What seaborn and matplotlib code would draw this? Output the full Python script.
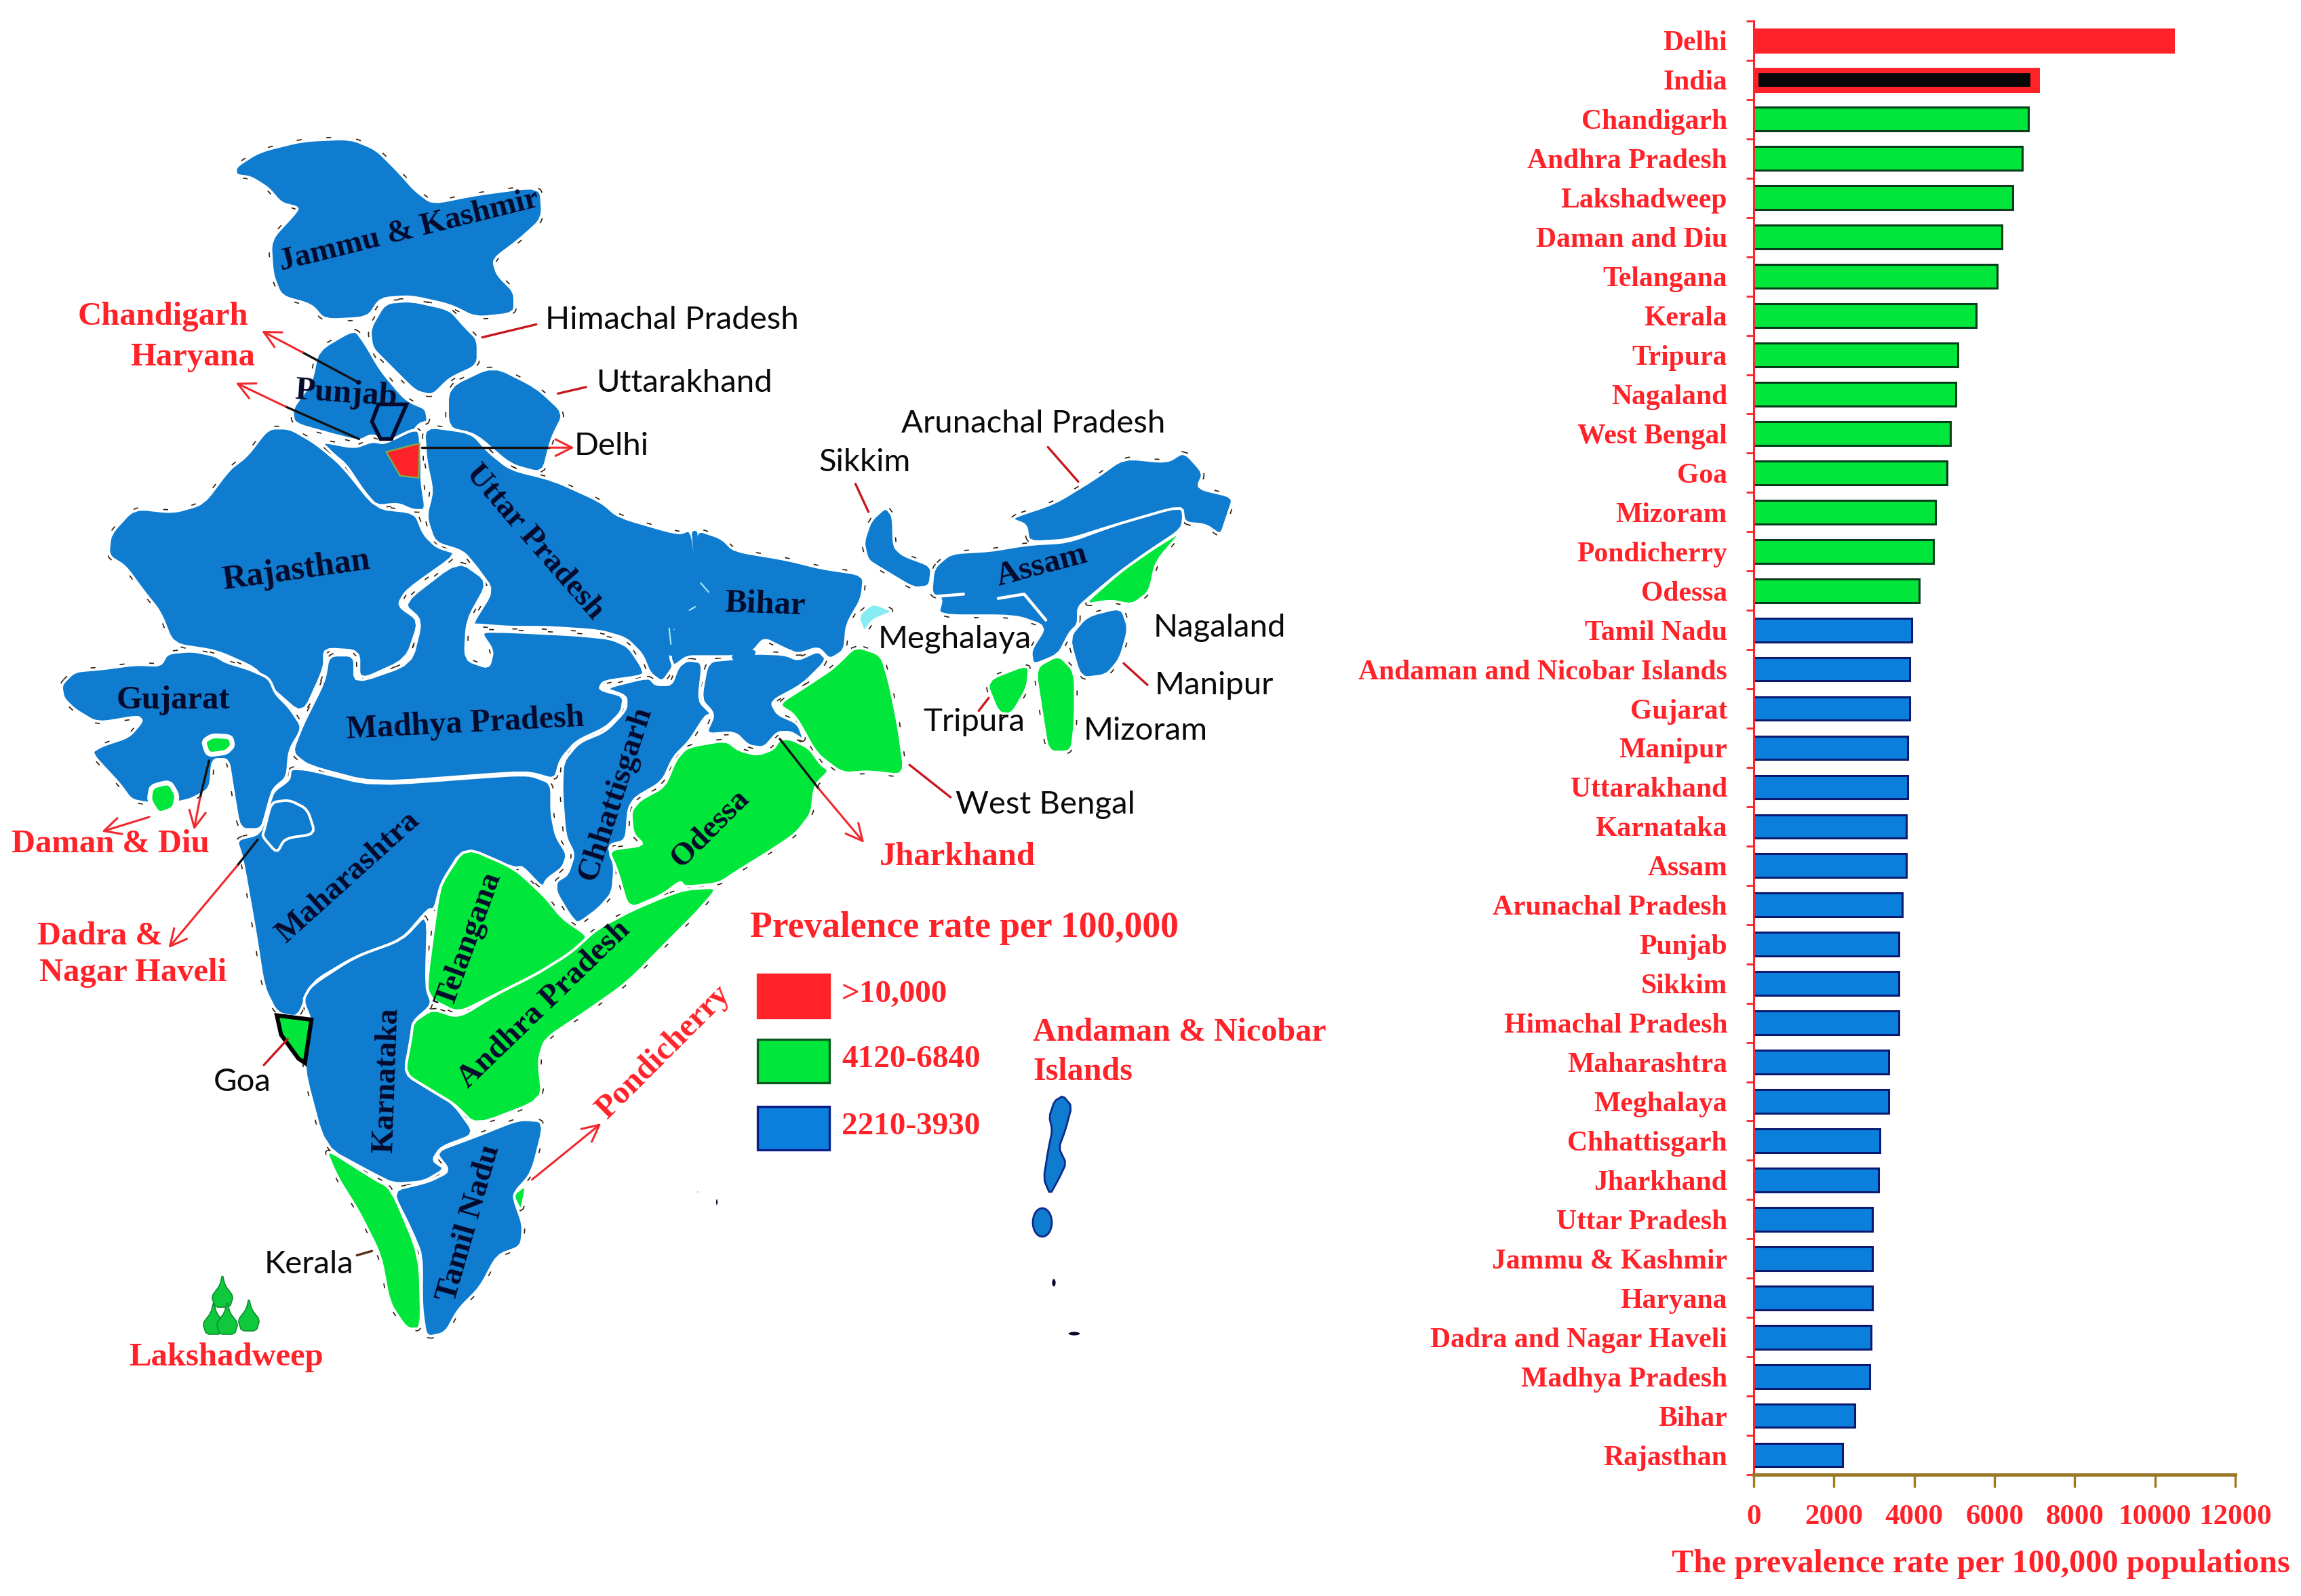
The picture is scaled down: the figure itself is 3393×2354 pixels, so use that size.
"""Prevalence by Indian state: hand-traced map on the left, ranked bars on the right."""

import matplotlib
matplotlib.use('Agg')
import matplotlib.pyplot as plt
from matplotlib.patches import Polygon, Rectangle, Ellipse
import pandas as pd
import seaborn as sns

W, H = 3393, 2354
DPI = 200

RED = '#ff2229'
GREEN = '#00e63a'
BLUE = '#0f7ccf'
BAR_BLUE = '#0a80dc'
SERIF = 'Liberation Serif'
SANS = 'Lato'

# bar chart data
states = ['Delhi', 'India', 'Chandigarh', 'Andhra Pradesh', 'Lakshadweep', 'Daman and Diu',
          'Telangana', 'Kerala', 'Tripura', 'Nagaland', 'West Bengal', 'Goa', 'Mizoram',
          'Pondicherry', 'Odessa', 'Tamil Nadu', 'Andaman and Nicobar Islands', 'Gujarat',
          'Manipur', 'Uttarakhand', 'Karnataka', 'Assam', 'Arunachal Pradesh', 'Punjab',
          'Sikkim', 'Himachal Pradesh', 'Maharashtra', 'Meghalaya', 'Chhattisgarh',
          'Jharkhand', 'Uttar Pradesh', 'Jammu & Kashmir', 'Haryana', 'Dadra and Nagar Haveli',
          'Madhya Pradesh', 'Bihar', 'Rajasthan']
rates = [10460, 7100, 6840, 6700, 6460, 6190, 6060, 5540, 5080, 5040, 4900, 4810, 4530, 4480,
         4120, 3930, 3880, 3880, 3840, 3840, 3800, 3800, 3700, 3620, 3620, 3620, 3360, 3360,
         3150, 3110, 2960, 2960, 2960, 2920, 2890, 2510, 2210]
groups = ['high'] * 2 + ['mid'] * 13 + ['low'] * 22
india_inner = (120, 6890)
x_ticks = [0, 2000, 4000, 6000, 8000, 10000, 12000]

legend_items = ['>10,000', '4120-6840', '2210-3930']


def pa(pts):
    return [(x / 1.568, 150 + y / 1.568) for x, y in pts]


def pb(pts):
    return [(1000 + x / 1.568, 500 + y / 1.568) for x, y in pts]


def pc(pts):
    return [(x / 1.568, 1150 + y / 1.568) for x, y in pts]


def pd_(pts):
    return [(50 + x / 3, 930 + y / 3) for x, y in pts]


def pe(pts):
    return [(750 + x / 3, 850 + y / 3) for x, y in pts]


jammu = pa([(545, 150), (600, 115), (700, 90), (810, 85), (870, 110), (920, 160), (960, 205),
            (1000, 235), (1100, 215), (1250, 195), (1255, 270), (1200, 320), (1140, 365),
            (1150, 400), (1190, 440), (1190, 490), (1100, 500), (1040, 470), (950, 450),
            (880, 455), (850, 500), (750, 505), (720, 470), (650, 450), (630, 400), (625, 320),
            (680, 260), (690, 245), (650, 235), (620, 200), (580, 175), (545, 170)])
himachal = pa([(855, 525), (890, 465), (950, 460), (1040, 480), (1075, 520), (1105, 550),
               (1105, 610), (1040, 640), (1000, 680), (960, 670), (900, 610), (860, 570)])
punjab = pa([(735, 575), (820, 525), (845, 560), (880, 620), (930, 680), (950, 695), (985, 710),
             (990, 740), (970, 745), (950, 770), (905, 790), (860, 770), (830, 785), (770, 770),
             (680, 745), (675, 710), (720, 650)])
haryana = pa([(740, 785), (820, 800), (860, 785), (890, 790), (950, 760), (970, 760), (975, 830),
              (975, 880), (985, 945), (955, 945), (920, 930), (870, 935), (840, 900), (800, 840),
              (770, 815)])
uttarakhand = pa([(1035, 660), (1140, 610), (1240, 660), (1305, 720), (1275, 780), (1255, 860),
                  (1180, 840), (1100, 770), (1035, 755)])
uttar_pradesh = (pa([(980, 750), (1090, 765), (1130, 810), (1180, 850), (1280, 875), (1390, 925),
                     (1430, 960), (1568, 1000)])
                 + pb([(30, 440), (45, 530)])
                 + pe([(885, 70), (820, 135), (720, 230), (715, 360), (730, 400), (680, 470),
                       (625, 430), (590, 345), (520, 275), (400, 240), (170, 225), (0, 225)])
                 + pa([(1110, 1210), (1090, 1210), (1140, 1130), (1100, 1075), (1070, 1040),
                       (1005, 1020), (985, 960), (1000, 900), (985, 830)]))
rajasthan = pa([(620, 755), (670, 755), (730, 790), (790, 840), (870, 940), (960, 950), (980, 1000),
                (1010, 1030), (1060, 1045), (940, 1130), (920, 1165), (970, 1200), (940, 1290),
                (830, 1340), (830, 1270), (750, 1265), (750, 1310), (700, 1420), (620, 1350),
                (590, 1310), (500, 1270), (400, 1255), (370, 1180), (330, 1130), (290, 1075),
                (250, 1050), (255, 1000), (310, 940), (400, 950), (470, 930), (530, 850), (570, 820)])
gujarat = pd_([(120, 240), (180, 180), (300, 170), (450, 150), (560, 155), (590, 100), (700, 90),
               (800, 110), (850, 140), (950, 170), (1040, 210), (1070, 280), (1130, 340), (1190, 430),
               (1130, 530), (1120, 650), (1060, 700), (1040, 760), (1010, 880), (910, 880), (880, 700),
               (860, 570), (790, 570), (780, 700), (700, 745), (640, 760), (510, 765), (430, 750),
               (380, 680), (250, 540), (300, 510), (420, 470), (480, 400), (460, 380), (280, 410),
               (180, 350), (130, 300)])
madhya = (pa([(700, 1440), (750, 1340), (760, 1280), (820, 1280), (820, 1345), (950, 1300), (975, 1200),
              (930, 1160), (1060, 1060), (1130, 1110), (1080, 1200), (1075, 1290), (1130, 1310),
              (1140, 1270), (1110, 1225)])
          + pe([(0, 245), (300, 260), (450, 275), (530, 310), (590, 400), (600, 440), (420, 465),
                (400, 500), (510, 530), (500, 600), (430, 670), (300, 730), (230, 810), (205, 900),
                (100, 870), (0, 870)])
          + pd_([(1500, 675), (1215, 600), (1140, 540)]))
chhattisgarh = pe([(420, 495), (520, 530), (520, 590), (430, 685), (310, 735), (240, 820), (235, 950),
                   (250, 1150), (290, 1230), (260, 1320), (210, 1350), (210, 1400), (270, 1500),
                   (305, 1540), (400, 1470), (460, 1400), (470, 1280), (440, 1190), (520, 1170),
                   (530, 1030), (560, 980), (680, 910), (730, 800), (800, 730), (870, 620), (900, 610),
                   (840, 550), (860, 380), (790, 370), (750, 400), (720, 480), (650, 480), (620, 445)])
maharashtra = (pd_([(895, 925), (1000, 900), (1040, 770), (1060, 710), (1130, 660), (1135, 610),
                    (1215, 615), (1500, 685)])
               + pe([(0, 880), (100, 880), (190, 915), (190, 1050), (210, 1150), (260, 1230), (240, 1290),
                     (170, 1340), (150, 1380), (60, 1285)])
               + pc([(1190, 205), (1070, 160), (1020, 240), (1005, 300), (990, 300), (930, 370), (820, 410),
                     (720, 470), (690, 550), (640, 540), (610, 480), (590, 350), (560, 180)]))
dadra = pd_([(1050, 760), (1130, 750), (1210, 790), (1245, 900), (1110, 920), (1075, 985), (1010, 910),
             (1020, 880)])
telangana = pc([(1075, 155), (1190, 205), (1260, 270), (1300, 320), (1365, 365), (1310, 410),
                (1240, 450), (1150, 495), (1060, 540), (1000, 510), (985, 480), (1010, 290),
                (1020, 240)])
andhra = (pc([(1000, 530), (1060, 550), (1150, 495), (1240, 450), (1320, 400), (1380, 345)])
          + pe([(540, 1480), (680, 1420), (780, 1385), (930, 1375), (830, 1490)])
          + pc([(1568, 350), (1450, 470), (1350, 540), (1260, 600), (1245, 650), (1255, 740), (1100, 800),
                (1050, 750), (1000, 720), (935, 680), (950, 600), (955, 560)]))
karnataka = pc([(720, 475), (820, 410), (930, 370), (990, 305), (985, 480), (1000, 520), (955, 560),
                (950, 600), (935, 680), (1000, 720), (1050, 750), (1100, 820), (1020, 850),
                (1000, 880), (1030, 900), (980, 930), (910, 935), (860, 910), (750, 850),
                (700, 660), (720, 560), (700, 510)])
goa = pc([(640, 545), (720, 555), (705, 655), (690, 645), (650, 590)])
kerala = pc([(750, 850), (860, 920), (905, 945), (970, 1100), (975, 1270), (940, 1270), (900, 1210),
             (880, 1100), (830, 1000), (780, 920)])
tamil_nadu = pc([(905, 950), (990, 930), (1040, 905), (1005, 860), (1100, 825), (1200, 785), (1260, 790),
                 (1230, 910), (1185, 960), (1210, 1030), (1205, 1080), (1150, 1100), (1110, 1175),
                 (1060, 1225), (1030, 1280), (985, 1290), (975, 1220), (975, 1100), (950, 1040)])
pondicherry = pc([(1185, 960), (1218, 935), (1205, 1000)])
odessa = pe([(440, 1210), (600, 1190), (550, 1140), (540, 1040), (580, 990), (690, 930), (740, 810),
             (790, 755), (960, 725), (1020, 770), (1100, 790), (1170, 765), (1200, 720), (1250, 720),
             (1330, 760), (1380, 830), (1420, 860), (1360, 920), (1350, 960), (1340, 1050), (1270, 1140),
             (1150, 1220), (1020, 1300), (930, 1360), (780, 1375), (760, 1350), (680, 1410), (530, 1475),
             (480, 1300)])
jharkhand = pe([(880, 375), (1000, 365), (1080, 340), (1220, 345), (1280, 370), (1370, 328), (1410, 370),
                (1300, 480), (1160, 555), (1190, 610), (1280, 650), (1310, 730), (1250, 690), (1190, 690),
                (1130, 760), (1060, 750), (1000, 690), (870, 700), (910, 610), (850, 545)])
bihar = (pb([(40, 440), (100, 460), (130, 490), (250, 510), (330, 530), (430, 545), (425, 600),
             (390, 660), (385, 720)])
         + pe([(1420, 370), (1370, 315), (1280, 345), (1220, 320), (1130, 275), (1080, 335), (1000, 355),
               (880, 355), (790, 355), (730, 400), (715, 360), (720, 230), (820, 135), (885, 70)])
         + pb([(45, 530)]))
west_bengal = pb([(410, 710), (470, 730), (490, 800), (510, 900), (525, 1010), (440, 1000), (380, 1005),
                  (320, 960), (270, 870), (230, 845), (300, 800), (360, 760)])
sikkim = pb([(480, 388), (497, 410), (499, 480), (520, 500), (587, 525), (582, 572), (545, 577),
             (470, 532), (438, 512), (428, 470), (445, 420)])
assam = pb([(590, 530), (630, 495), (720, 490), (810, 475), (900, 470), (1010, 430), (1150, 385),
            (1170, 395), (1165, 440), (1090, 490), (1020, 540), (960, 590), (925, 620), (925, 660),
            (905, 680), (880, 730), (820, 755), (815, 720), (850, 665), (780, 640), (600, 640),
            (610, 600), (585, 590)])
arunachal = pb([(765, 415), (870, 380), (960, 325), (1030, 275), (1130, 285), (1170, 260), (1215, 310),
                (1200, 345), (1285, 365), (1270, 410), (1255, 455), (1220, 430), (1170, 425),
                (1165, 385), (1010, 430), (900, 465), (810, 470), (805, 430)])
nagaland = pb([(935, 615), (1020, 540), (1090, 490), (1170, 440), (1105, 515), (1090, 585), (1050, 615),
               (1000, 605)])
manipur = pb([(945, 640), (1025, 620), (1042, 670), (1022, 740), (990, 778), (930, 785), (903, 690)])
mizoram = pb([(825, 760), (880, 730), (918, 770), (918, 880), (910, 955), (855, 955), (840, 860)])
tripura = pb([(710, 790), (812, 750), (808, 805), (772, 868), (740, 865)])
meghalaya = pb([(415, 640), (450, 610), (500, 630), (450, 650), (430, 680)])
delhi = pa([(893, 810), (970, 790), (968, 870), (925, 865)])
chandigarh = pa([(860, 740), (875, 700), (940, 700), (905, 780), (880, 780)])
daman = pd_([(520, 690), (600, 670), (635, 730), (620, 790), (550, 815), (510, 750)])
dadra_green = pd_([(750, 490), (790, 465), (870, 470), (880, 510), (850, 540), (770, 550)])
andaman = [(1000 + x / 1.568, 1300 + y / 1.96) for x, y in
           [(870, 635), (890, 620), (910, 650), (895, 720), (880, 770), (897, 815), (880, 860),
            (860, 905), (845, 860), (855, 780), (865, 720), (858, 680)]]

blue_regions = [jammu, himachal, punjab, haryana, uttarakhand, uttar_pradesh, rajasthan, gujarat,
                madhya, chhattisgarh, maharashtra, dadra, karnataka, tamil_nadu, bihar, jharkhand,
                sikkim, assam, arunachal, manipur]
green_regions = [telangana, andhra, kerala, pondicherry, odessa, west_bengal, nagaland, mizoram,
                 tripura]

# (text, x, y, rotation, size) in reference pixels
map_names = [
    ('Jammu & Kashmir', 603, 341, 14, 17), ('Rajasthan', 437, 842, 8, 18),
    ('Punjab', 510, 581, -4, 17.5), ('Uttar Pradesh', 788, 800, -49, 17),
    ('Gujarat', 255, 1033, 0, 17.5), ('Madhya Pradesh', 686, 1068, 3, 17.3),
    ('Bihar', 1128, 892, -2, 17.5), ('Assam', 1536, 835, 15, 17.5),
    ('Chhattisgarh', 908, 1170, 72, 17), ('Odessa', 1048, 1222, 45, 17),
    ('Maharashtra', 513, 1294, 42, 17), ('Telangana', 692, 1386, 70, 17),
    ('Andhra Pradesh', 803, 1482, 44, 17), ('Karnataka', 571, 1593, 88, 16.5),
    ('Tamil Nadu', 692, 1804, 74, 17),
]
sans_names = [
    ('Himachal Pradesh', 991, 472, 17), ('Uttarakhand', 1009, 565, 17), ('Delhi', 902, 658, 17),
    ('Arunachal Pradesh', 1524, 625, 17), ('Sikkim', 1275, 682, 17), ('Meghalaya', 1408, 943, 17),
    ('Nagaland', 1798, 926, 17), ('Manipur', 1790, 1011, 17), ('Tripura', 1436, 1065, 17),
    ('Mizoram', 1689, 1078, 17), ('West Bengal', 1541, 1187, 17), ('Goa', 357, 1596, 17),
    ('Kerala', 455, 1865, 17),
]
red_names = [
    ('Chandigarh', 240, 467, 0), ('Haryana', 284, 527, 0), ('Jharkhand', 1412, 1264, 0),
    ('Daman & Diu', 163, 1245, 0), ('Dadra &', 147, 1381, 0), ('Nagar Haveli', 196, 1435, 0),
    ('Pondicherry', 978, 1552, 45), ('Lakshadweep', 333, 2002, 0),
]

sns.set_style('white')
plt.rcParams['font.family'] = [SERIF, 'DejaVu Serif']

fig = plt.figure(figsize=(W / DPI, H / DPI), dpi=DPI)
map_ax = fig.add_axes([0, 0, 1, 1])
map_ax.set_xlim(0, W)
map_ax.set_ylim(H, 0)
map_ax.axis('off')


def smooth(pts, n=2, cut=0.17):
    # corner cutting, the traced outlines are too angular otherwise
    for _ in range(n):
        new = []
        for (x0, y0), (x1, y1) in zip(pts, pts[1:] + pts[:1]):
            new.append(((1 - cut) * x0 + cut * x1, (1 - cut) * y0 + cut * y1))
            new.append((cut * x0 + (1 - cut) * x1, cut * y0 + (1 - cut) * y1))
        pts = new
    return pts


def add_region(pts, color, edge='white', lw=1.4):
    # speckled dark rim under the white border, as in the scanned map
    pts = smooth(pts)
    map_ax.add_patch(Polygon(pts, closed=True, fill=False, edgecolor='#2b1a08', lw=2.6,
                             linestyle=(0, (1, 5)), joinstyle='round', zorder=1))
    map_ax.add_patch(Polygon(pts, closed=True, facecolor=color, edgecolor=edge, lw=lw,
                             joinstyle='round', zorder=2))


for region in blue_regions:
    add_region(region, BLUE)
for region in green_regions:
    add_region(region, GREEN)
add_region(meghalaya, '#86ecf2')
for region in [daman, dadra_green]:
    map_ax.add_patch(Polygon(smooth(region), facecolor=GREEN, edgecolor='white', lw=2.6, zorder=3))

# UP, Bihar and Jharkhand run into each other, only faint traces of the border survive
for seg in [pe([(720, 340), (718, 230), (820, 135), (885, 70)]) + pb([(45, 530), (38, 450)]),
            pe([(1000, 358), (1080, 338)])]:
    xs, ys = zip(*seg)
    map_ax.plot(xs, ys, color=BLUE, lw=3, zorder=3)
for seg in [[(800, 150), (825, 135)], [(710, 230), (718, 300)], [(850, 30), (885, 70)]]:
    xs, ys = zip(*pe(seg))
    map_ax.plot(xs, ys, color='#9fe8f5', lw=0.8, zorder=3)

map_ax.add_patch(Polygon(goa, facecolor=GREEN, edgecolor='black', lw=2.2, zorder=3))
map_ax.add_patch(Polygon(delhi, facecolor=RED, edgecolor='#7fb04a', lw=0.8, zorder=3))
map_ax.add_patch(Polygon(chandigarh, facecolor=BLUE, edgecolor='#06082e', lw=2, zorder=3))
map_ax.add_patch(Polygon(smooth(andaman, 1), facecolor=BLUE, edgecolor='#0b2a8a', lw=1, zorder=3))
map_ax.add_patch(Ellipse((1537, 1803), 28, 42, facecolor=BLUE, edgecolor='#0b2a8a', lw=1, zorder=3))
for cx, cy, rx, ry in [(1554, 1892, 8, 14), (1584, 1967, 20, 8), (1029, 1758, 4, 4), (1057, 1773, 5, 12)]:
    map_ax.add_patch(Ellipse((cx, cy), rx, ry, facecolor='#06082e', zorder=3))

# Lakshadweep islands
for cx, cy in [(328, 1910), (315, 1950), (335, 1950), (367, 1945)]:
    map_ax.add_patch(Polygon(smooth([(cx, cy - 30), (cx + 4, cy - 14), (cx + 16, cy + 2), (cx + 11, cy + 18),
                                     (cx - 11, cy + 18), (cx - 16, cy + 2), (cx - 4, cy - 14)], 1),
                             facecolor='#10c83c', edgecolor='#0a8f30', lw=0.6, zorder=3))

# white slits inside Assam
for seg in [[(600, 595), (660, 590)], [(740, 600), (800, 590), (850, 650)]]:
    xs, ys = zip(*pb(seg))
    map_ax.plot(xs, ys, color='white', lw=1.6, zorder=4)


def leader(pts, color='#c8161c', lw=1.2):
    xs, ys = zip(*pts)
    map_ax.plot(xs, ys, color=color, lw=lw, zorder=5, solid_capstyle='round')


def arrow(start, end, color='#f0282c'):
    map_ax.annotate('', xy=end, xytext=start, zorder=6,
                    arrowprops=dict(arrowstyle='->', color=color, lw=1.1, mutation_scale=22,
                                    shrinkA=0, shrinkB=0))


leader(pa([(1115, 545), (1240, 515)]))
leader(pa([(1290, 675), (1355, 660)]))
leader(pb([(855, 250), (925, 330)]))
leader(pb([(410, 335), (440, 400)]))
leader(pb([(1030, 750), (1085, 800)]))
leader(pb([(695, 860), (718, 830)]))
leader(pb([(535, 985), (630, 1060)]))
leader(pc([(610, 660), (665, 600)]))
leader(pc([(825, 1100), (860, 1090)]), color='#5a2a10')

leader(pa([(830, 650), (700, 580)]), color='#111111')
arrow(pa([(700, 580)])[0], pa([(605, 530)])[0])
leader(pa([(830, 780), (660, 705)]), color='#111111')
arrow(pa([(660, 705)])[0], pa([(545, 650)])[0])
leader(pa([(975, 800), (1270, 800)]), color='#111111')
arrow(pa([(1270, 800)])[0], pa([(1328, 800)])[0])
leader(pb([(235, 925), (325, 1040)]), color='#111111')
arrow(pb([(325, 1040)])[0], pb([(430, 1165)])[0])
arrow(pc([(1230, 925)])[0], pc([(1390, 795)])[0])
leader(pd_([(990, 925), (900, 1040)]), color='#111111')
arrow(pd_([(900, 1040)])[0], pd_([(595, 1405)])[0])
arrow(pd_([(510, 825)])[0], pd_([(300, 890)])[0])
leader(pd_([(775, 575), (735, 740)]), color='#111111')
arrow(pd_([(735, 740)])[0], pd_([(708, 882)])[0])

for name, x, y, rot, size in map_names:
    map_ax.text(x, y, name, rotation=rot, rotation_mode='anchor', ha='center', va='center',
                fontsize=size, fontweight='bold', color='#060a2c', zorder=7)
for name, x, y, size in sans_names:
    map_ax.text(x, y, name, ha='center', va='center', fontsize=size, color='#0a0a0a',
                family=SANS, zorder=7)
for name, x, y, rot in red_names:
    map_ax.text(x, y, name, rotation=rot, rotation_mode='anchor', ha='center', va='center',
                fontsize=17.5, fontweight='bold', color=RED, zorder=7)

# legend of the map
map_ax.text(1422, 1369, 'Prevalence rate per 100,000', ha='center', va='center', fontsize=19.3,
            fontweight='bold', color=RED)
for top, color, edge, label in zip([1437, 1533, 1632], [RED, GREEN, BAR_BLUE],
                                   [RED, '#0a5a20', '#0b1f8a'], legend_items):
    map_ax.add_patch(Rectangle((1117, top), 106, 64, facecolor=color, edgecolor=edge, lw=1.2))
    map_ax.text(1241, top + 30, label, ha='left', va='center', fontsize=17, fontweight='bold',
                color=RED)
map_ax.text(1523, 1523, 'Andaman & Nicobar', ha='left', va='center', fontsize=17.3, fontweight='bold',
            color=RED)
map_ax.text(1523, 1581, 'Islands', ha='left', va='center', fontsize=17.3, fontweight='bold', color=RED)

# bar chart
df = pd.DataFrame({'state': states, 'rate': rates, 'group': groups})
bar_ax = fig.add_axes([2586 / W, 1 - 2175 / H, 710 / W, 2144 / H])
bar_ax.patch.set_alpha(0)
sns.barplot(data=df, y='state', x='rate', hue='group', hue_order=['high', 'mid', 'low'],
            palette={'high': RED, 'mid': GREEN, 'low': BAR_BLUE}, dodge=False, width=0.6,
            saturation=1, legend=False, ax=bar_ax)
for container, edge in zip(bar_ax.containers, [RED, '#063d1a', '#0a1a70']):
    for bar in container:
        bar.set_edgecolor(edge)
        bar.set_linewidth(1.1)

bar_ax.barh(1, india_inner[1] - india_inner[0], left=india_inner[0], height=0.34, color='#080808',
            edgecolor='none', zorder=4)

bar_ax.set_xlim(0, 12000)
bar_ax.set_ylim(len(states) - 0.5, -0.5)
bar_ax.set_xticks(x_ticks)
bar_ax.set_xlabel('')
bar_ax.set_ylabel('')
bar_ax.set_yticks([i - 0.5 for i in range(len(states) + 1)], minor=True)
bar_ax.tick_params(axis='y', which='major', length=0, pad=14, labelsize=15, labelcolor=RED)
bar_ax.tick_params(axis='y', which='minor', left=True, length=4, width=1, color=RED)
bar_ax.tick_params(axis='x', bottom=True, length=7, width=1.2, color='#a0781e', pad=9,
                   labelsize=15.5, labelcolor=RED)
for label in bar_ax.get_yticklabels() + bar_ax.get_xticklabels():
    label.set_fontweight('bold')

sns.despine(ax=bar_ax)
bar_ax.spines['left'].set_color(RED)
bar_ax.spines['left'].set_linewidth(1.1)
bar_ax.spines['bottom'].set_color('#9a7a2a')
bar_ax.spines['bottom'].set_linewidth(1.8)

map_ax.text(2921, 2307, 'The prevalence rate per 100,000 populations', ha='center', va='center',
            fontsize=17.4, fontweight='bold', color=RED)

fig.savefig('out.png', dpi=DPI)
plt.close(fig)
